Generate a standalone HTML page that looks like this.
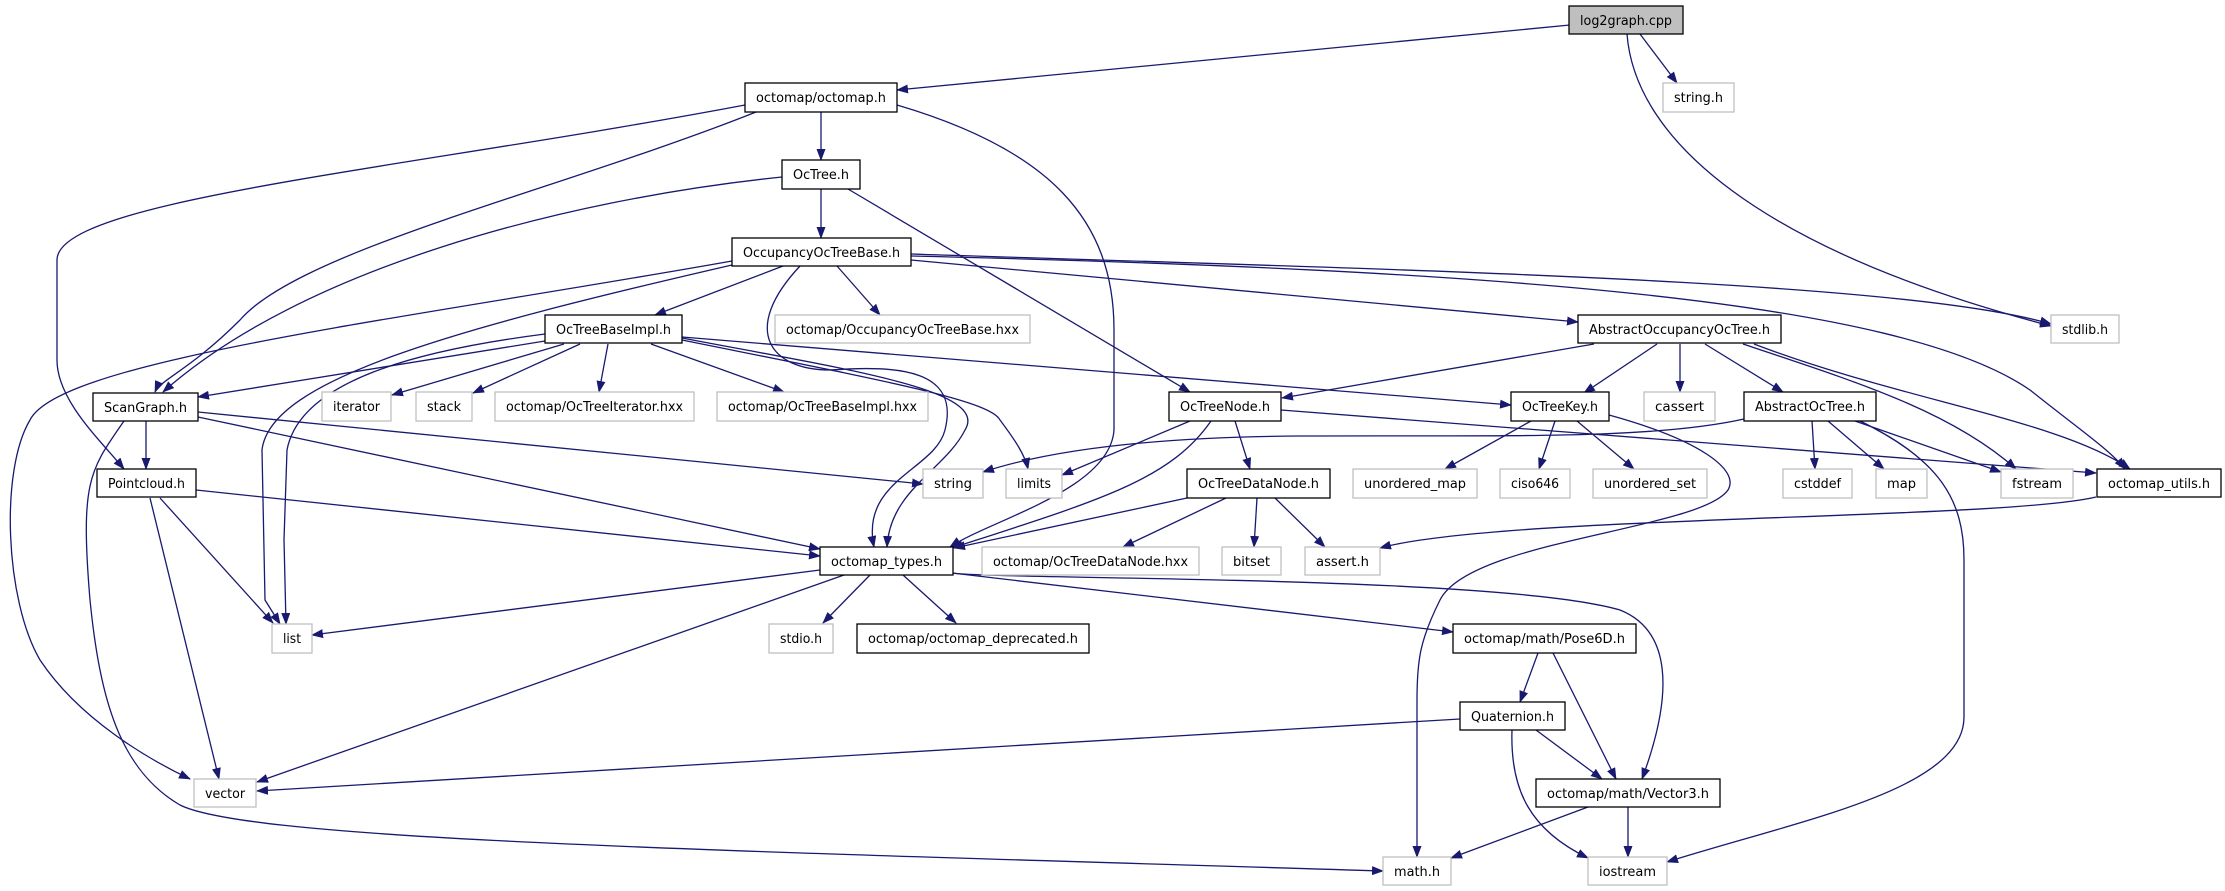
<!DOCTYPE html>
<html><head><meta charset="utf-8"><style>
html,body{margin:0;padding:0;background:#fff;}
svg{display:block;}
text{font-family:"DejaVu Sans","Liberation Sans",sans-serif;font-size:13px;fill:#000;}
.e{fill:none;stroke:#191970;stroke-width:1.3;marker-end:url(#a);}
.b{fill:#fff;stroke:#000;stroke-width:1.3;}
.g{fill:#fff;stroke:#bfbfbf;stroke-width:1.3;}
</style></head><body>
<svg width="2225" height="891" viewBox="0 0 2225 891" xmlns="http://www.w3.org/2000/svg">
<defs><marker id="a" markerUnits="userSpaceOnUse" markerWidth="12" markerHeight="9" refX="11" refY="4.5" orient="auto"><path d="M0,0 L12,4.5 L0,9 z" fill="#191970"/></marker></defs>
<g>
<path class="e" d="M1570,25 L897,90"/>
<path class="e" d="M1640,34 L1677,83"/>
<path class="e" d="M1627,34 C1635,140 1760,250 2051,326"/>
<path class="e" d="M821,112 L821,160"/>
<path class="e" d="M756,112 C560,190 300,250 240,320 C190,370 160,380 155,392"/>
<path class="e" d="M745,105 C400,170 57,200 57,260 L57,360 C57,400 100,440 124,469"/>
<path class="e" d="M897,105 C1050,150 1114,220 1114,330 L1114,430 C1110,490 990,520 950,547"/>
<path class="e" d="M821,189 L821,238"/>
<path class="e" d="M782,177 C560,200 300,270 163,392"/>
<path class="e" d="M848,189 L1190,392"/>
<path class="e" d="M783,266 L655,315"/>
<path class="e" d="M837,266 L880,315"/>
<path class="e" d="M911,260 L1578,322"/>
<path class="e" d="M911,254 C1400,270 1900,280 2051,324"/>
<path class="e" d="M911,256 C1500,270 1900,300 2030,390 C2080,430 2110,450 2125,469"/>
<path class="e" d="M732,261 C400,320 60,360 30,420 C0,470 5,600 40,660 C80,720 150,760 190,779"/>
<path class="e" d="M732,265 C450,330 270,380 262,450 L265,600 L280,624"/>
<path class="e" d="M800,266 C740,330 770,370 830,370 C900,365 960,370 945,430 C935,470 860,480 874,547"/>
<path class="e" d="M682,338 C850,370 990,390 965,430 C945,470 890,490 887,547"/>
<path class="e" d="M545,341 L198,397"/>
<path class="e" d="M564,344 L392,395"/>
<path class="e" d="M580,344 L473,393"/>
<path class="e" d="M608,344 L599,392"/>
<path class="e" d="M651,344 L784,392"/>
<path class="e" d="M545,334 C420,350 300,380 287,450 L284,540 L286,624"/>
<path class="e" d="M682,340 C880,380 990,400 1000,420 C1015,440 1025,455 1028,469"/>
<path class="e" d="M682,337 L1511,405"/>
<path class="e" d="M1594,344 L1282,398"/>
<path class="e" d="M1657,344 L1584,393"/>
<path class="e" d="M1680,344 L1680,392"/>
<path class="e" d="M1705,344 L1783,392"/>
<path class="e" d="M1743,344 C1850,380 1950,410 2016,469"/>
<path class="e" d="M1754,344 C1900,400 2060,420 2130,469"/>
<path class="e" d="M146,421 L146,469"/>
<path class="e" d="M198,417 L820,549"/>
<path class="e" d="M198,412 L923,484"/>
<path class="e" d="M124,421 C90,470 80,480 90,600 C100,700 120,770 180,805 C250,840 700,850 1383,871"/>
<path class="e" d="M196,490 L820,556"/>
<path class="e" d="M160,498 L273,623"/>
<path class="e" d="M150,498 L219,779"/>
<path class="e" d="M1744,419 C1650,440 1500,435 1300,436 C1150,437 1050,450 983,472"/>
<path class="e" d="M1190,421 L1062,475"/>
<path class="e" d="M1211,421 C1170,480 1100,500 952,548"/>
<path class="e" d="M1235,421 L1250,469"/>
<path class="e" d="M1281,410 L2096,473"/>
<path class="e" d="M1531,421 L1445,469"/>
<path class="e" d="M1555,421 L1539,469"/>
<path class="e" d="M1577,421 L1634,469"/>
<path class="e" d="M1609,415 C1700,440 1740,470 1728,490 C1700,530 1470,540 1440,600 C1420,640 1417,660 1417,700 L1417,857"/>
<path class="e" d="M2096,497 C2000,520 1500,515 1380,548"/>
<path class="e" d="M1812,421 L1815,469"/>
<path class="e" d="M1828,421 L1884,469"/>
<path class="e" d="M1855,421 L2001,472"/>
<path class="e" d="M1860,421 C1940,460 1964,500 1964,560 L1964,717 C1964,790 1800,820 1667,862"/>
<path class="e" d="M820,570 L312,635"/>
<path class="e" d="M844,575 L257,782"/>
<path class="e" d="M870,575 L823,623"/>
<path class="e" d="M903,575 L956,623"/>
<path class="e" d="M952,573 L1453,632"/>
<path class="e" d="M952,573 C1000,580 1500,575 1620,610 C1670,630 1675,690 1642,779"/>
<path class="e" d="M1538,653 L1520,702"/>
<path class="e" d="M1553,653 L1616,779"/>
<path class="e" d="M1460,719 L257,791"/>
<path class="e" d="M1536,730 L1602,779"/>
<path class="e" d="M1512,730 C1510,790 1530,830 1588,858"/>
<path class="e" d="M1588,807 L1451,858"/>
<path class="e" d="M1628,807 L1628,857"/>
<path class="e" d="M1226,498 L1123,547"/>
<path class="e" d="M1257,498 L1254,547"/>
<path class="e" d="M1275,498 L1325,547"/>
<path class="e" d="M1187,498 L954,548"/>
</g>
<g>
<rect x="1569" y="6" width="114" height="28" fill="#bfbfbf" stroke="#000" stroke-width="1.3"/><text x="1626" y="25" text-anchor="middle" textLength="92" lengthAdjust="spacingAndGlyphs">log2graph.cpp</text>
<rect class="g" x="1663" y="83" width="71" height="29"/><text x="1698.5" y="102" text-anchor="middle" textLength="49" lengthAdjust="spacingAndGlyphs">string.h</text>
<rect class="b" x="745" y="83" width="152" height="29"/><text x="821" y="102" text-anchor="middle" textLength="130" lengthAdjust="spacingAndGlyphs">octomap/octomap.h</text>
<rect class="b" x="782" y="160" width="78" height="29"/><text x="821" y="179" text-anchor="middle" textLength="56" lengthAdjust="spacingAndGlyphs">OcTree.h</text>
<rect class="b" x="732" y="238" width="179" height="28"/><text x="821.5" y="257" text-anchor="middle" textLength="157" lengthAdjust="spacingAndGlyphs">OccupancyOcTreeBase.h</text>
<rect class="b" x="545" y="315" width="137" height="28"/><text x="613.5" y="334" text-anchor="middle" textLength="115" lengthAdjust="spacingAndGlyphs">OcTreeBaseImpl.h</text>
<rect class="g" x="775" y="315" width="255" height="28"/><text x="902.5" y="334" text-anchor="middle" textLength="233" lengthAdjust="spacingAndGlyphs">octomap/OccupancyOcTreeBase.hxx</text>
<rect class="b" x="1578" y="315" width="203" height="28"/><text x="1679.5" y="334" text-anchor="middle" textLength="181" lengthAdjust="spacingAndGlyphs">AbstractOccupancyOcTree.h</text>
<rect class="g" x="2051" y="315" width="68" height="28"/><text x="2085" y="334" text-anchor="middle" textLength="46" lengthAdjust="spacingAndGlyphs">stdlib.h</text>
<rect class="b" x="93" y="393" width="105" height="28"/><text x="145.5" y="412" text-anchor="middle" textLength="83" lengthAdjust="spacingAndGlyphs">ScanGraph.h</text>
<rect class="g" x="322" y="392" width="69" height="29"/><text x="356.5" y="411" text-anchor="middle" textLength="47" lengthAdjust="spacingAndGlyphs">iterator</text>
<rect class="g" x="416" y="392" width="56" height="29"/><text x="444" y="411" text-anchor="middle" textLength="34" lengthAdjust="spacingAndGlyphs">stack</text>
<rect class="g" x="495" y="392" width="199" height="29"/><text x="594.5" y="411" text-anchor="middle" textLength="177" lengthAdjust="spacingAndGlyphs">octomap/OcTreeIterator.hxx</text>
<rect class="g" x="717" y="392" width="211" height="29"/><text x="822.5" y="411" text-anchor="middle" textLength="189" lengthAdjust="spacingAndGlyphs">octomap/OcTreeBaseImpl.hxx</text>
<rect class="b" x="1169" y="392" width="112" height="29"/><text x="1225" y="411" text-anchor="middle" textLength="90" lengthAdjust="spacingAndGlyphs">OcTreeNode.h</text>
<rect class="b" x="1511" y="392" width="98" height="29"/><text x="1560" y="411" text-anchor="middle" textLength="76" lengthAdjust="spacingAndGlyphs">OcTreeKey.h</text>
<rect class="g" x="1644" y="392" width="71" height="29"/><text x="1679.5" y="411" text-anchor="middle" textLength="49" lengthAdjust="spacingAndGlyphs">cassert</text>
<rect class="b" x="1744" y="392" width="132" height="29"/><text x="1810" y="411" text-anchor="middle" textLength="110" lengthAdjust="spacingAndGlyphs">AbstractOcTree.h</text>
<rect class="b" x="97" y="469" width="99" height="28"/><text x="146.5" y="488" text-anchor="middle" textLength="77" lengthAdjust="spacingAndGlyphs">Pointcloud.h</text>
<rect class="g" x="923" y="469" width="60" height="29"/><text x="953" y="488" text-anchor="middle" textLength="38" lengthAdjust="spacingAndGlyphs">string</text>
<rect class="g" x="1006" y="469" width="56" height="29"/><text x="1034" y="488" text-anchor="middle" textLength="34" lengthAdjust="spacingAndGlyphs">limits</text>
<rect class="b" x="1187" y="469" width="143" height="29"/><text x="1258.5" y="488" text-anchor="middle" textLength="121" lengthAdjust="spacingAndGlyphs">OcTreeDataNode.h</text>
<rect class="g" x="1353" y="469" width="124" height="29"/><text x="1415" y="488" text-anchor="middle" textLength="102" lengthAdjust="spacingAndGlyphs">unordered_map</text>
<rect class="g" x="1500" y="469" width="70" height="29"/><text x="1535" y="488" text-anchor="middle" textLength="48" lengthAdjust="spacingAndGlyphs">ciso646</text>
<rect class="g" x="1593" y="469" width="114" height="29"/><text x="1650" y="488" text-anchor="middle" textLength="92" lengthAdjust="spacingAndGlyphs">unordered_set</text>
<rect class="g" x="1783" y="469" width="69" height="29"/><text x="1817.5" y="488" text-anchor="middle" textLength="47" lengthAdjust="spacingAndGlyphs">cstddef</text>
<rect class="g" x="1876" y="469" width="51" height="29"/><text x="1901.5" y="488" text-anchor="middle" textLength="29" lengthAdjust="spacingAndGlyphs">map</text>
<rect class="g" x="2001" y="469" width="72" height="29"/><text x="2037" y="488" text-anchor="middle" textLength="50" lengthAdjust="spacingAndGlyphs">fstream</text>
<rect class="b" x="2097" y="469" width="124" height="28"/><text x="2159" y="488" text-anchor="middle" textLength="102" lengthAdjust="spacingAndGlyphs">octomap_utils.h</text>
<rect class="b" x="820" y="547" width="133" height="28"/><text x="886.5" y="566" text-anchor="middle" textLength="111" lengthAdjust="spacingAndGlyphs">octomap_types.h</text>
<rect class="g" x="982" y="547" width="217" height="28"/><text x="1090.5" y="566" text-anchor="middle" textLength="195" lengthAdjust="spacingAndGlyphs">octomap/OcTreeDataNode.hxx</text>
<rect class="g" x="1222" y="547" width="59" height="28"/><text x="1251.5" y="566" text-anchor="middle" textLength="37" lengthAdjust="spacingAndGlyphs">bitset</text>
<rect class="g" x="1305" y="547" width="75" height="28"/><text x="1342.5" y="566" text-anchor="middle" textLength="53" lengthAdjust="spacingAndGlyphs">assert.h</text>
<rect class="g" x="272" y="624" width="40" height="29"/><text x="292" y="643" text-anchor="middle" textLength="18" lengthAdjust="spacingAndGlyphs">list</text>
<rect class="g" x="769" y="624" width="64" height="29"/><text x="801" y="643" text-anchor="middle" textLength="42" lengthAdjust="spacingAndGlyphs">stdio.h</text>
<rect class="b" x="857" y="624" width="232" height="29"/><text x="973" y="643" text-anchor="middle" textLength="210" lengthAdjust="spacingAndGlyphs">octomap/octomap_deprecated.h</text>
<rect class="b" x="1453" y="624" width="183" height="29"/><text x="1544.5" y="643" text-anchor="middle" textLength="161" lengthAdjust="spacingAndGlyphs">octomap/math/Pose6D.h</text>
<rect class="b" x="1460" y="702" width="105" height="28"/><text x="1512.5" y="721" text-anchor="middle" textLength="83" lengthAdjust="spacingAndGlyphs">Quaternion.h</text>
<rect class="g" x="194" y="779" width="62" height="28"/><text x="225" y="798" text-anchor="middle" textLength="40" lengthAdjust="spacingAndGlyphs">vector</text>
<rect class="b" x="1536" y="779" width="184" height="28"/><text x="1628" y="798" text-anchor="middle" textLength="162" lengthAdjust="spacingAndGlyphs">octomap/math/Vector3.h</text>
<rect class="g" x="1383" y="857" width="68" height="28"/><text x="1417" y="876" text-anchor="middle" textLength="46" lengthAdjust="spacingAndGlyphs">math.h</text>
<rect class="g" x="1588" y="857" width="79" height="28"/><text x="1627.5" y="876" text-anchor="middle" textLength="57" lengthAdjust="spacingAndGlyphs">iostream</text>
</g>
</svg>
</body></html>
